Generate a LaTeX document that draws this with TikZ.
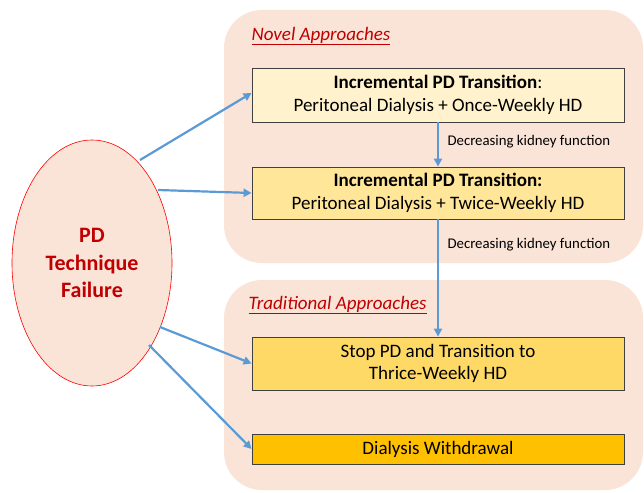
\documentclass[tikz,border=0pt]{standalone}
\usepackage{fontspec}
\setmainfont{Carlito}
\usetikzlibrary{shapes.geometric,arrows.meta}
\definecolor{peach}{HTML}{FAE3D7}
\definecolor{darkred}{HTML}{C00000}
\definecolor{arrowblue}{HTML}{5B9BD5}
\definecolor{fillA}{HTML}{FFF2CC}
\definecolor{fillB}{HTML}{FFE699}
\definecolor{fillC}{HTML}{FFD966}
\definecolor{fillD}{HTML}{FFC000}
\tikzset{
  panel/.style={fill=peach, draw=none, rounded corners=38pt},
  boxnode/.style={draw=black!75, line width=0.8pt, minimum width=372pt, align=center, inner sep=1pt, font=\fontsize{19}{22.5}\selectfont},
  conn/.style={draw=arrowblue, line width=2.2pt, -{Triangle[length=8pt,width=8pt]}},
  heading/.style={text=darkred, font=\fontsize{19}{22}\selectfont\itshape, anchor=west},
  smalllabel/.style={font=\fontsize{14.8}{17}\selectfont, anchor=west}
}
\begin{document}
\begin{tikzpicture}[x=1pt,y=-1pt]
\useasboundingbox (0,0) rectangle (644,492);
\fill[white] (0,0) rectangle (644,492);
% panels
\path[panel] (224,10) rectangle (643,263);
\path[panel] (224,280) rectangle (643,490);
% headings
\node[heading] (novel) at (248,36) {\underline{Novel Approaches}};
\node[heading] (trad) at (245,305) {\underline{Traditional Approaches}};
% ellipse
\node[ellipse, draw=red, fill=peach, line width=0.6pt, minimum width=160pt, minimum height=246pt, align=center, text=darkred, font=\fontsize{22}{27.5}\selectfont\bfseries] (pd) at (92,263) {PD\\Technique\\Failure};
% boxes
\node[boxnode, fill=fillA, minimum height=54pt] (b1) at (438,95) {\textbf{Incremental PD Transition}:\\Peritoneal Dialysis + Once-Weekly HD};
\node[boxnode, fill=fillB, minimum height=52pt] (b2) at (438,193) {\textbf{Incremental PD Transition:}\\Peritoneal Dialysis + Twice-Weekly HD};
\node[boxnode, fill=fillC, minimum height=53pt] (b3) at (438,363.5) {Stop PD and Transition to\\Thrice-Weekly HD};
\node[boxnode, fill=fillD, minimum height=30pt] (b4) at (438,449) {Dialysis Withdrawal};
% vertical connectors
\draw[conn] (b1.south) -- (b2.north);
\draw[conn] (b2.south) -- (b3.north);
\node[smalllabel] (l1) at (444,142) {Decreasing kidney function};
\node[smalllabel] (l2) at (444,245) {Decreasing kidney function};
% connectors from ellipse
\coordinate (e1) at (140,160);
\coordinate (e2) at (158,190);
\coordinate (e3) at (160,327);
\coordinate (e4) at (149,345);
\draw[conn] (e1) -- ([yshift=2pt]b1.west);
\draw[conn] (e2) -- (b2.west);
\draw[conn] (e3) -- (b3.west);
\draw[conn] (e4) -- (b4.west);
\end{tikzpicture}
\end{document}
